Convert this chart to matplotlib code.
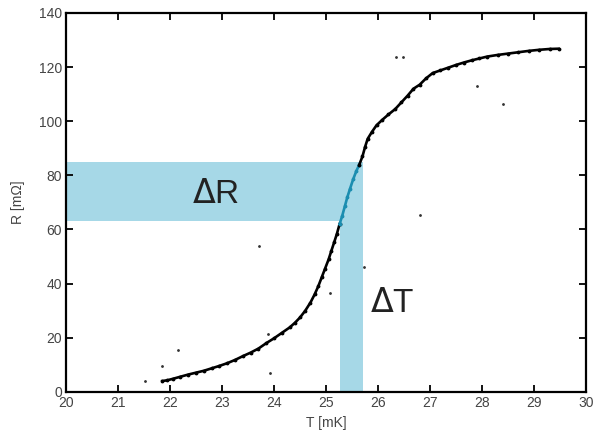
import matplotlib
matplotlib.use('Agg')
import matplotlib.pyplot as plt
from matplotlib.patches import Rectangle

plt.rcParams['font.family'] = ['Liberation Sans', 'DejaVu Sans']

# transition curve (T in mK, R in mOhm)
T = [21.85, 21.95, 22.05, 22.2, 22.35, 22.5, 22.65, 22.8, 22.95, 23.1,
     23.25, 23.4, 23.55, 23.7, 23.85, 24.0, 24.15, 24.3, 24.4, 24.5,
     24.6, 24.7, 24.78, 24.85, 24.92, 24.98, 25.05, 25.1, 25.16, 25.21,
     25.26, 25.31, 25.36, 25.41, 25.46, 25.52, 25.58, 25.64, 25.7, 25.75,
     25.8, 25.88, 25.97, 26.08, 26.2, 26.33, 26.45, 26.57, 26.68, 26.8,
     26.92, 27.05, 27.2, 27.35, 27.5, 27.65, 27.8, 27.95, 28.1, 28.3,
     28.5, 28.7, 28.9, 29.1, 29.3, 29.47]
R = [4.0, 4.3, 4.8, 5.6, 6.4, 7.1, 7.8, 8.7, 9.6, 10.6,
     11.8, 13.2, 14.5, 16.0, 18.0, 19.8, 21.8, 23.8, 25.5, 27.5,
     30.0, 33.0, 36.0, 39.0, 42.5, 45.5, 49.0, 52.0, 55.5, 58.5,
     62.0, 65.0, 68.5, 72.0, 75.0, 78.5, 81.5, 84.0, 87.0, 90.5,
     93.5, 96.0, 98.5, 100.5, 102.5, 104.5, 107.0, 109.5, 112.0, 113.5,
     115.8, 117.8, 118.8, 119.8, 120.8, 121.7, 122.5, 123.2, 123.9, 124.5,
     125.0, 125.5, 126.0, 126.4, 126.7, 126.8]

# stray points
T_out = [21.52, 21.84, 22.15, 23.72, 23.88, 23.92, 25.08, 25.72, 26.81, 26.35, 26.48, 27.9, 28.41]
R_out = [4.1, 9.6, 15.5, 53.8, 21.3, 6.9, 36.5, 46.3, 65.4, 123.9, 123.9, 113.0, 106.4]

# transition width
R_low, R_high = 63, 85
T_low, T_high = 25.27, 25.71

band = '#a6d8e7'
teal = '#1b8db0'

fig = plt.figure(figsize=(5.95, 4.33), dpi=100)
ax = fig.add_axes([0.111, 0.095, 0.874, 0.875])

ax.add_patch(Rectangle((20, R_low), T_high - 20, R_high - R_low, color=band, lw=0, zorder=0))
ax.add_patch(Rectangle((T_low, 0), T_high - T_low, R_high, color=band, lw=0, zorder=0))

# split curve into the part inside the box and outside
T_a = [t for t, r in zip(T, R) if r <= R_low + 1]
R_a = [r for r in R if r <= R_low + 1]
T_b = [t for t, r in zip(T, R) if R_low - 1 <= r <= R_high + 1]
R_b = [r for r in R if R_low - 1 <= r <= R_high + 1]
T_c = [t for t, r in zip(T, R) if r >= R_high - 1]
R_c = [r for r in R if r >= R_high - 1]

for tt, rr, c in [(T_a, R_a, 'k'), (T_b, R_b, teal), (T_c, R_c, 'k')]:
    ax.plot(tt, rr, color=c, lw=1.9, zorder=2)
    ax.plot(tt, rr, '.', color=c, ms=3.5, zorder=2)
ax.plot(T_out, R_out, '.', color='#333333', ms=2, zorder=2)

ax.text(22.88, 73, r'$\Delta$R', fontsize=24, ha='center', va='center', color='#222222')
ax.text(25.85, 32.5, r'$\Delta$T', fontsize=24, ha='left', va='center', color='#222222')

ax.set_xlim(20, 30)
ax.set_ylim(0, 140)
ax.set_xticks(range(20, 31))
ax.set_yticks(range(0, 141, 20))
ax.tick_params(direction='in', top=True, right=True, length=5, width=1.3,
               labelsize=10, labelcolor='#444444', pad=3)
for s in ax.spines.values():
    s.set_linewidth(1.6)
ax.set_xlabel('T [mK]', fontsize=10, color='#444444', labelpad=4)
ax.set_ylabel('R [m\u03a9]', fontsize=10, color='#444444', labelpad=10)

fig.savefig('out.png', dpi=100)
